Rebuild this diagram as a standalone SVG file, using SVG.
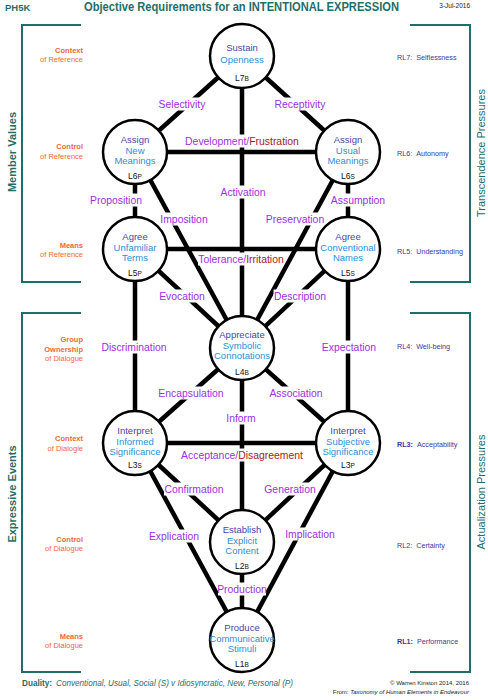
<svg xmlns="http://www.w3.org/2000/svg" width="488" height="700" viewBox="0 0 488 700">
<defs>
<style>
text{font-family:"Liberation Sans",Arial,sans-serif}
.edge{stroke:#000;stroke-width:4.5;fill:none}
.brk{stroke:#1f6e6a;stroke-width:2;fill:none}
.node circle{fill:#fff;stroke:#000;stroke-width:2.5}
.v{fill:#4a44a8;font-size:9.5px;text-anchor:middle}
.n{fill:#2c8fd6;font-size:9.5px;text-anchor:middle}
.lv{fill:#111;font-size:8.5px;text-anchor:middle}
.lv tspan{font-size:6.5px}
.gap rect{fill:#fff;height:13px}
.lbls text{fill:#9b30e0;font-size:10.4px;text-anchor:middle}
.lbls tspan{fill:#a31c1c}
.or{fill:#f2683a;font-size:7.5px;text-anchor:end}
.orb{font-weight:bold}
.rl{fill:#3a3a9c;font-size:7.2px}
.teal{fill:#1f6e6a}
.side{fill:#1f6e6a;font-size:11px;text-anchor:middle}
</style>
</defs>
<rect width="488" height="700" fill="#fff"/>

<!-- header -->
<text x="5" y="10.5" class="teal" font-size="9.5" font-weight="bold">PH5K</text>
<text x="84" y="11" class="teal" font-size="12.5" font-weight="bold" textLength="315" lengthAdjust="spacingAndGlyphs">Objective Requirements for an INTENTIONAL EXPRESSION</text>
<text x="470" y="8" font-size="6.5" fill="#222" text-anchor="end">3-Jul-2016</text>

<!-- brackets -->
<g id="brackets">
<path class="brk" d="M81,25 H22 V282 H81"/>
<path class="brk" d="M81,313 H22 V672 H81"/>
<path class="brk" d="M410,25 H470 V282 H410"/>
<path class="brk" d="M410,313 H470 V672 H410"/>
</g>
<text class="side" font-weight="bold" transform="translate(16,152) rotate(-90)">Member Values</text>
<text class="side" font-weight="bold" transform="translate(16,494) rotate(-90)">Expressive Events</text>
<text class="side" transform="translate(485,153) rotate(-90)">Transcendence Pressures</text>
<text class="side" transform="translate(485,492) rotate(-90)">Actualization Pressures</text>

<!-- left labels -->
<g id="left-labels">
<text class="or orb" x="83" y="52.5">Context</text><text class="or" x="83" y="62">of Reference</text>
<text class="or orb" x="83" y="148.5">Control</text><text class="or" x="83" y="158.5">of Reference</text>
<text class="or orb" x="83" y="247.5">Means</text><text class="or" x="83" y="256.5">of Reference</text>
<text class="or orb" x="83" y="341.5">Group</text><text class="or orb" x="83" y="351.5">Ownership</text><text class="or" x="83" y="360.5">of Dialogue</text>
<text class="or orb" x="83" y="440.5">Context</text><text class="or" x="83" y="450.5">of Dialogie</text>
<text class="or orb" x="83" y="541.5">Control</text><text class="or" x="83" y="550.5">of Dialogue</text>
<text class="or orb" x="83" y="638.5">Means</text><text class="or" x="83" y="647.5">of Dialogue</text>
</g>

<!-- right labels -->
<g id="right-labels">
<text class="rl" x="397" y="59.5">RL7:<tspan dx="4">Selflessness</tspan></text>
<text class="rl" x="397" y="155.5">RL6:<tspan dx="4">Autonomy</tspan></text>
<text class="rl" x="397" y="253.5">RL5:<tspan dx="4">Understanding</tspan></text>
<text class="rl" x="397" y="348.5">RL4:<tspan dx="4">Well-being</tspan></text>
<text class="rl" x="397" y="446.5"><tspan font-weight="bold">RL3:</tspan><tspan dx="4">Acceptability</tspan></text>
<text class="rl" x="397" y="547.5">RL2:<tspan dx="4">Certainty</tspan></text>
<text class="rl" x="397" y="643.5"><tspan font-weight="bold">RL1:</tspan><tspan dx="4">Performance</tspan></text>
</g>

<!-- connectors -->
<g id="connectors">
<line class="edge" x1="242" y1="56" x2="135" y2="152"/>
<line class="edge" x1="242" y1="56" x2="348" y2="152"/>
<line class="edge" x1="242" y1="56" x2="242" y2="348"/>
<line class="edge" x1="135" y1="152" x2="348" y2="152"/>
<line class="edge" x1="135" y1="152" x2="135" y2="249"/>
<line class="edge" x1="348" y1="152" x2="348" y2="249"/>
<line class="edge" x1="135" y1="152" x2="242" y2="348"/>
<line class="edge" x1="348" y1="152" x2="242" y2="348"/>
<line class="edge" x1="135" y1="249" x2="348" y2="249"/>
<line class="edge" x1="135" y1="249" x2="242" y2="348"/>
<line class="edge" x1="348" y1="249" x2="242" y2="348"/>
<line class="edge" x1="135" y1="249" x2="135" y2="443"/>
<line class="edge" x1="348" y1="249" x2="348" y2="443"/>
<line class="edge" x1="242" y1="348" x2="135" y2="443"/>
<line class="edge" x1="242" y1="348" x2="348" y2="443"/>
<line class="edge" x1="242" y1="348" x2="242" y2="542"/>
<line class="edge" x1="135" y1="443" x2="348" y2="443"/>
<line class="edge" x1="135" y1="443" x2="242" y2="542"/>
<line class="edge" x1="348" y1="443" x2="242" y2="542"/>
<line class="edge" x1="135" y1="443" x2="242" y2="640"/>
<line class="edge" x1="348" y1="443" x2="242" y2="640"/>
<line class="edge" x1="242" y1="542" x2="242" y2="640"/>
</g>

<!-- white gaps behind connector labels -->
<g class="gap">
<rect x="157.5" y="97.5" width="49"/>
<rect x="273.5" y="97.5" width="53"/>
<rect x="186.5" y="134.5" width="111"/>
<rect x="219" y="185.5" width="48"/>
<rect x="88.5" y="193.5" width="55"/>
<rect x="330" y="193.5" width="56"/>
<rect x="158.5" y="212.5" width="51"/>
<rect x="266" y="212.5" width="58"/>
<rect x="198" y="252.5" width="86"/>
<rect x="158.5" y="289.5" width="47"/>
<rect x="273.5" y="289.5" width="53"/>
<rect x="100.5" y="340.5" width="67"/>
<rect x="321" y="340.5" width="56"/>
<rect x="158.5" y="386.5" width="65"/>
<rect x="269" y="386.5" width="54"/>
<rect x="224.5" y="411.5" width="33"/>
<rect x="180.5" y="448.5" width="123"/>
<rect x="164" y="482.5" width="60"/>
<rect x="264.5" y="482.5" width="52"/>
<rect x="148" y="529.5" width="52"/>
<rect x="283.5" y="527.5" width="53"/>
<rect x="218" y="582.5" width="48"/>
</g>

<!-- connector labels -->
<g id="connector-labels" class="lbls">
<text x="182" y="107.5">Selectivity</text>
<text x="300" y="107.5">Receptivity</text>
<text x="242" y="144.5">Development/<tspan>Frustration</tspan></text>
<text x="243" y="195.5">Activation</text>
<text x="116" y="203.5">Proposition</text>
<text x="358" y="203.5">Assumption</text>
<text x="184" y="222.5">Imposition</text>
<text x="295" y="222.5">Preservation</text>
<text x="241" y="262.5">Tolerance/<tspan>Irritation</tspan></text>
<text x="182" y="299.5">Evocation</text>
<text x="300" y="299.5">Description</text>
<text x="134" y="350.5">Discrimination</text>
<text x="349" y="350.5">Expectation</text>
<text x="191" y="396.5">Encapsulation</text>
<text x="296" y="396.5">Association</text>
<text x="241" y="421.5">Inform</text>
<text x="242" y="458.5">Acceptance/<tspan>Disagreement</tspan></text>
<text x="194" y="492.5">Confirmation</text>
<text x="290" y="492.5">Generation</text>
<text x="174" y="539.5">Explication</text>
<text x="310" y="537.5">Implication</text>
<text x="242" y="592.5">Production</text>
</g>

<!-- nodes -->
<g id="L7B" class="node"><circle cx="242" cy="56" r="32"/>
<text class="v" x="242" y="50.5">Sustain</text><text class="n" x="242" y="62.5">Openness</text>
<text class="lv" x="242" y="81">L7<tspan>B</tspan></text></g>

<g id="L6P" class="node"><circle cx="135" cy="152" r="32"/>
<text class="v" x="135" y="142.5">Assign</text><text class="n" x="135" y="153.5">New</text><text class="n" x="135" y="164">Meanings</text>
<text class="lv" x="135" y="179">L6<tspan>P</tspan></text></g>

<g id="L6S" class="node"><circle cx="348" cy="152" r="32"/>
<text class="v" x="348" y="142.5">Assign</text><text class="n" x="348" y="153.5">Usual</text><text class="n" x="348" y="164">Meanings</text>
<text class="lv" x="348" y="179">L6<tspan>S</tspan></text></g>

<g id="L5P" class="node"><circle cx="135" cy="249" r="32"/>
<text class="v" x="135" y="239.5">Agree</text><text class="n" x="135" y="250.5">Unfamiliar</text><text class="n" x="135" y="261">Terms</text>
<text class="lv" x="135" y="276">L5<tspan>P</tspan></text></g>

<g id="L5S" class="node"><circle cx="348" cy="249" r="32"/>
<text class="v" x="348" y="239.5">Agree</text><text class="n" x="348" y="250.5">Conventional</text><text class="n" x="348" y="261">Names</text>
<text class="lv" x="348" y="276">L5<tspan>S</tspan></text></g>

<g id="L4B" class="node"><circle cx="242" cy="348" r="32"/>
<text class="v" x="242" y="338">Appreciate</text><text class="n" x="242" y="348.5">Symbolic</text><text class="n" x="242" y="359">Connotations</text>
<text class="lv" x="242" y="375">L4<tspan>B</tspan></text></g>

<g id="L3S" class="node"><circle cx="135" cy="443" r="32"/>
<text class="v" x="135" y="434">Interpret</text><text class="n" x="135" y="444.5">Informed</text><text class="n" x="135" y="455">Significance</text>
<text class="lv" x="135" y="468">L3<tspan>S</tspan></text></g>

<g id="L3P" class="node"><circle cx="348" cy="443" r="32"/>
<text class="v" x="348" y="434">Interpret</text><text class="n" x="348" y="444.5">Subjective</text><text class="n" x="348" y="455">Significance</text>
<text class="lv" x="348" y="468">L3<tspan>P</tspan></text></g>

<g id="L2B" class="node"><circle cx="242" cy="542" r="32"/>
<text class="v" x="242" y="532.5">Establish</text><text class="n" x="242" y="543.5">Explicit</text><text class="n" x="242" y="554">Content</text>
<text class="lv" x="242" y="569">L2<tspan>B</tspan></text></g>

<g id="L1B" class="node"><circle cx="242" cy="640" r="32"/>
<text class="v" x="242" y="631">Produce</text><text class="n" x="242" y="641.5">Communicative</text><text class="n" x="242" y="652">Stimuli</text>
<text class="lv" x="242" y="667">L1<tspan>B</tspan></text></g>

<!-- footer -->
<text x="22" y="686" class="teal" font-size="8.2" font-weight="bold">Duality:</text>
<text x="56" y="686" class="teal" font-size="8.5" font-style="italic" textLength="237" lengthAdjust="spacingAndGlyphs">Conventional, Usual, Social (S)  v  Idiosyncratic, New, Personal (P)</text>
<text x="469" y="685" font-size="6" fill="#222" text-anchor="end">© Warren Kinston 2014, 2016</text>
<text x="469" y="694" font-size="6" fill="#222" text-anchor="end">From: <tspan font-style="italic">Taxonomy of Human Elements in Endeavour</tspan></text>
</svg>
